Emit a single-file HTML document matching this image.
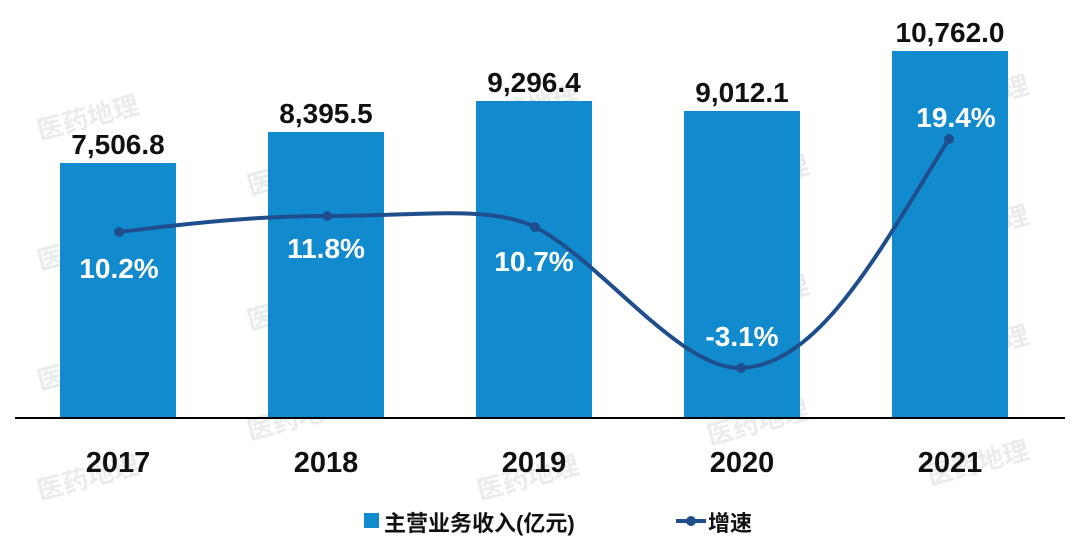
<!DOCTYPE html>
<html><head><meta charset="utf-8"><style>
body{margin:0;background:#fff;}
svg{display:block;}
</style></head><body>
<svg width="1080" height="559" xmlns="http://www.w3.org/2000/svg" font-family="'Liberation Sans','Noto Sans CJK SC',sans-serif">
<g fill="#e3e3e3" font-size="26" font-weight="bold" opacity="0.7">
<text x="40" y="140" transform="rotate(-15 40 140)">医药地理</text>
<text x="250" y="195" transform="rotate(-15 250 195)">医药地理</text>
<text x="40" y="270" transform="rotate(-15 40 270)">医药地理</text>
<text x="250" y="330" transform="rotate(-15 250 330)">医药地理</text>
<text x="40" y="390" transform="rotate(-15 40 390)">医药地理</text>
<text x="250" y="440" transform="rotate(-15 250 440)">医药地理</text>
<text x="40" y="500" transform="rotate(-15 40 500)">医药地理</text>
<text x="480" y="130" transform="rotate(-15 480 130)">医药地理</text>
<text x="480" y="260" transform="rotate(-15 480 260)">医药地理</text>
<text x="480" y="390" transform="rotate(-15 480 390)">医药地理</text>
<text x="480" y="500" transform="rotate(-15 480 500)">医药地理</text>
<text x="710" y="200" transform="rotate(-15 710 200)">医药地理</text>
<text x="710" y="320" transform="rotate(-15 710 320)">医药地理</text>
<text x="710" y="445" transform="rotate(-15 710 445)">医药地理</text>
<text x="930" y="120" transform="rotate(-15 930 120)">医药地理</text>
<text x="930" y="250" transform="rotate(-15 930 250)">医药地理</text>
<text x="930" y="370" transform="rotate(-15 930 370)">医药地理</text>
<text x="930" y="485" transform="rotate(-15 930 485)">医药地理</text>
</g>
<g fill="#118bce">
<rect x="60" y="163" width="116" height="255"/>
<rect x="268" y="132" width="116" height="286"/>
<rect x="476" y="101" width="116" height="317"/>
<rect x="684" y="111" width="116" height="307"/>
<rect x="892" y="51" width="116" height="367"/>
</g>
<line x1="15" y1="418" x2="1065" y2="418" stroke="#000" stroke-width="2"/>
<g font-size="28" font-weight="bold" fill="#111" text-anchor="middle">
<text x="118" y="154">7,506.8</text>
<text x="326" y="123">8,395.5</text>
<text x="534" y="92">9,296.4</text>
<text x="742" y="102">9,012.1</text>
<text x="950" y="42">10,762.0</text>
</g>
<g font-size="29" font-weight="bold" fill="#111" text-anchor="middle">
<text x="118" y="472">2017</text>
<text x="326" y="472">2018</text>
<text x="534" y="472">2019</text>
<text x="742" y="472">2020</text>
<text x="950" y="472">2021</text>
</g>
<path d="M119,232 C200,222 260,216 327,216 C420,216 490,205 535,227 C600,260 680,370 741,368 C820,365 880,250 949,139" fill="none" stroke="#1f4e8c" stroke-width="4"/>
<g fill="#1f4e8c">
<circle cx="119" cy="232" r="5"/><circle cx="327" cy="216" r="5"/><circle cx="535" cy="227" r="5"/><circle cx="741" cy="368" r="5"/><circle cx="949" cy="139" r="5"/>
</g>
<g font-size="28" font-weight="bold" fill="#fff" text-anchor="middle">
<text x="119" y="278">10.2%</text>
<text x="326" y="258">11.8%</text>
<text x="534" y="271">10.7%</text>
<text x="742" y="346">-3.1%</text>
<text x="956" y="127">19.4%</text>
</g>
<rect x="364" y="513" width="15" height="15" fill="#118bce"/>
<text x="384" y="531" font-size="22" font-weight="bold" fill="#111">主营业务收入(亿元)</text>
<line x1="676" y1="521" x2="706" y2="521" stroke="#1f4e8c" stroke-width="4"/>
<circle cx="691" cy="521" r="5" fill="#1f4e8c"/>
<text x="708" y="531" font-size="22" font-weight="bold" fill="#111">增速</text>
</svg>
</body></html>
